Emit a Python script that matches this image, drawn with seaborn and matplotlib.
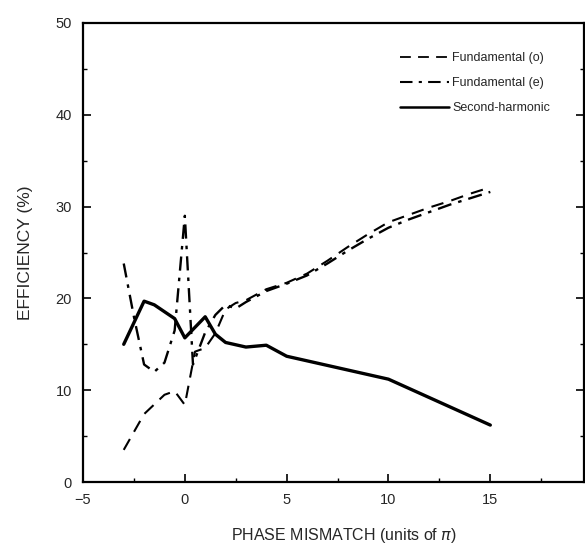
import matplotlib
matplotlib.use("Agg")
import matplotlib.pyplot as plt
import seaborn as sns
import pandas as pd
from matplotlib.lines import Line2D
from matplotlib.ticker import MultipleLocator

sns.set_style("ticks")
plt.rcParams['font.family'] = ['Liberation Sans', 'DejaVu Sans']

# Fundamental (o) - dashed
phase_o = [-3, -2, -1, -0.5, 0, 0.5, 1, 1.5, 2, 2.5, 3, 4, 5, 6, 7, 8, 9, 10, 11, 12, 13, 14, 15]
eff_o = [3.5, 7.4, 9.5, 9.9, 8.4, 14.2, 14.6, 16.2, 18.8, 19.5, 19.8, 21.0, 21.7, 22.7, 24.1, 25.6, 27.0, 28.3, 29.1, 29.9, 30.6, 31.4, 32.1]

# Fundamental (e) - dash-dot
phase_e = [-3, -2.5, -2, -1.5, -1, -0.5, 0, 0.4, 1, 1.5, 2, 2.5, 3, 4, 5, 6, 7, 8, 9, 10, 11, 12, 13, 14, 15]
eff_e = [23.8, 18.0, 12.8, 12.0, 13.0, 16.5, 29.0, 12.8, 16.3, 18.2, 19.3, 18.9, 19.6, 20.8, 21.6, 22.5, 23.8, 25.2, 26.5, 27.7, 28.6, 29.4, 30.2, 30.9, 31.6]

# Second-harmonic - solid
phase_s = [-3, -2, -1.5, -0.5, 0, 1, 1.5, 2, 3, 4, 5, 10, 15]
eff_s = [15.0, 19.7, 19.3, 17.8, 15.7, 18.0, 16.1, 15.2, 14.7, 14.9, 13.7, 11.2, 6.2]

labels = ["Fundamental (o)", "Fundamental (e)", "Second-harmonic"]

fig = plt.figure(figsize=(5.85, 5.51), dpi=100)
ax = fig.add_axes([83/585, 1-482/551, (584-83)/585, (482-23)/551])

df_o = pd.DataFrame({"x": phase_o, "y": eff_o})
df_e = pd.DataFrame({"x": phase_e, "y": eff_e})
df_s = pd.DataFrame({"x": phase_s, "y": eff_s})

sns.lineplot(data=df_o, x="x", y="y", ax=ax, sort=False, color="black", lw=1.5,
             estimator=None)
ax.lines[-1].set_dashes((6, 4))
sns.lineplot(data=df_e, x="x", y="y", ax=ax, sort=False, color="black", lw=1.7,
             estimator=None)
ax.lines[-1].set_dashes((6, 3, 1.5, 3))
sns.lineplot(data=df_s, x="x", y="y", ax=ax, sort=False, color="black", lw=2.4,
             estimator=None)

ax.set_xlim(-5, 19.6)
ax.set_ylim(0, 50)
ax.xaxis.set_major_locator(MultipleLocator(5))
ax.xaxis.set_minor_locator(MultipleLocator(2.5))
ax.yaxis.set_major_locator(MultipleLocator(10))
ax.yaxis.set_minor_locator(MultipleLocator(5))
ax.tick_params(which="both", direction="in", top=False, right=True, color="black")
ax.tick_params(which="major", length=6, width=1.2, labelsize=10.5, pad=8)
ax.tick_params(which="minor", length=3, width=1.0)
for sp in ax.spines.values():
    sp.set_visible(True)
    sp.set_linewidth(1.6)
    sp.set_color("black")

ax.set_xlabel("PHASE MISMATCH (units of $\\pi$)", fontsize=11.5, labelpad=16)
ax.xaxis.set_label_coords(0.52, -0.095)
ax.set_ylabel("EFFICIENCY (%)", fontsize=12.5, labelpad=16)

handles = [
    Line2D([], [], color="black", lw=1.3, dashes=(6, 4)),
    Line2D([], [], color="black", lw=1.5, dashes=(6, 3, 1.5, 3)),
    Line2D([], [], color="black", lw=1.8),
]
leg = fig.legend(handles, labels, loc="upper left", bbox_to_anchor=(395/585, 1-47/551),
                 frameon=False, fontsize=9, handlelength=3.9, handletextpad=0.3,
                 labelspacing=1.05, borderaxespad=0)

fig.savefig("out.png", dpi=100)
